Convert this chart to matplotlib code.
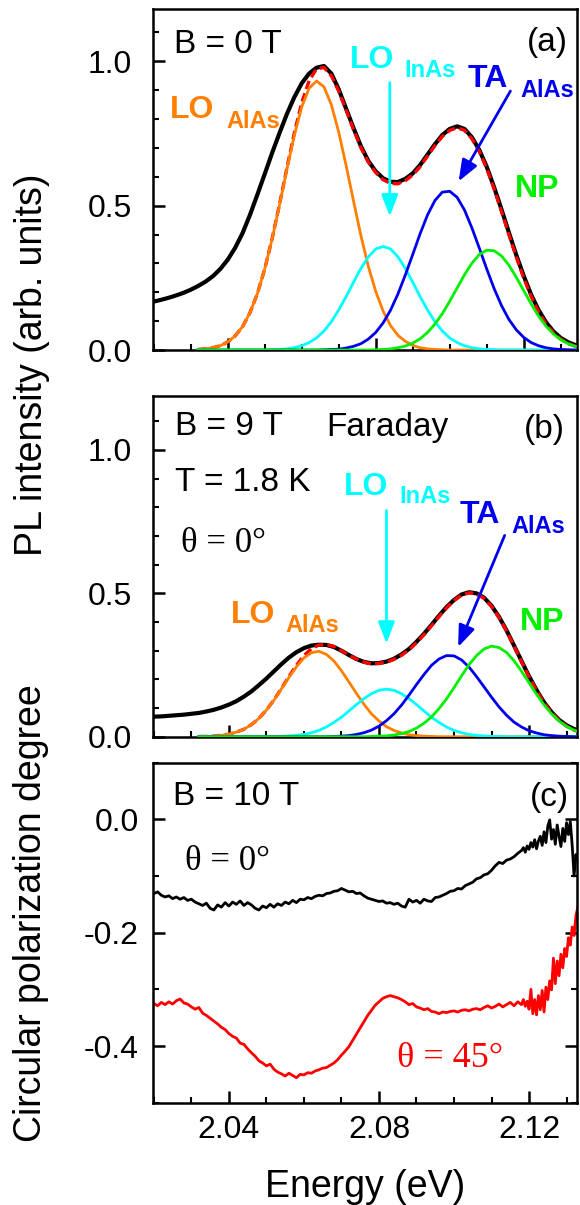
import matplotlib
matplotlib.use("Agg")
import matplotlib.pyplot as plt
import numpy as np
from matplotlib.ticker import MultipleLocator, FormatStrFormatter

# ---- data ----
# PL spectra grid (eV), black measured curves in (a) and (b)
energy_pl = [2.020, 2.022, 2.024, 2.026, 2.028, 2.030, 2.032, 2.034, 2.036, 2.038,
             2.040, 2.042, 2.044, 2.046, 2.048, 2.050, 2.052, 2.054, 2.056, 2.058,
             2.060, 2.062, 2.064, 2.066, 2.068, 2.070, 2.072, 2.074, 2.076, 2.078,
             2.080, 2.082, 2.084, 2.086, 2.088, 2.090, 2.092, 2.094, 2.096, 2.098,
             2.100, 2.102, 2.104, 2.106, 2.108, 2.110, 2.112, 2.114, 2.116, 2.118,
             2.120, 2.122, 2.124, 2.126, 2.128, 2.130, 2.132, 2.134]

pl_0T = [0.168, 0.174, 0.181, 0.189, 0.198, 0.209, 0.222, 0.237, 0.256, 0.281,
         0.313, 0.354, 0.405, 0.468, 0.538, 0.610, 0.683, 0.752, 0.818, 0.876,
         0.924, 0.958, 0.978, 0.984, 0.958, 0.903, 0.836, 0.769, 0.706, 0.655,
         0.619, 0.595, 0.583, 0.582, 0.593, 0.612, 0.641, 0.677, 0.713, 0.745,
         0.766, 0.775, 0.766, 0.737, 0.693, 0.635, 0.564, 0.487, 0.407, 0.329,
         0.257, 0.192, 0.139, 0.097, 0.065, 0.042, 0.027, 0.017]

pl_9T = [0.070, 0.071, 0.073, 0.075, 0.077, 0.080, 0.083, 0.088, 0.094, 0.102,
         0.112, 0.124, 0.140, 0.158, 0.180, 0.203, 0.228, 0.253, 0.276, 0.295,
         0.309, 0.318, 0.321, 0.320, 0.313, 0.300, 0.285, 0.271, 0.261, 0.256,
         0.257, 0.262, 0.272, 0.287, 0.306, 0.331, 0.359, 0.390, 0.422, 0.452,
         0.477, 0.496, 0.504, 0.500, 0.485, 0.457, 0.418, 0.371, 0.318, 0.264,
         0.211, 0.163, 0.120, 0.086, 0.059, 0.040, 0.027, 0.018]

# fit components share the grid from 2.032 eV
energy_fit = energy_pl[6:]

lo_alas_0T = [0.002, 0.004, 0.008, 0.015, 0.028, 0.049, 0.081, 0.129, 0.195, 0.281,
              0.385, 0.503, 0.627, 0.744, 0.842, 0.907, 0.932, 0.912, 0.850, 0.755,
              0.639, 0.516, 0.396, 0.290, 0.203, 0.135, 0.085, 0.051, 0.030, 0.016,
              0.008, 0.004, 0.002, 0.001, 0, 0, 0, 0, 0, 0,
              0, 0, 0, 0, 0, 0, 0, 0, 0, 0, 0, 0]
lo_inas_0T = [0, 0, 0, 0, 0, 0, 0, 0, 0, 0,
              0.001, 0.002, 0.004, 0.008, 0.015, 0.026, 0.042, 0.066, 0.098, 0.139,
              0.185, 0.235, 0.283, 0.323, 0.350, 0.359, 0.350, 0.323, 0.283, 0.235,
              0.185, 0.139, 0.098, 0.066, 0.042, 0.026, 0.015, 0.008, 0.004, 0.002,
              0.001, 0, 0, 0, 0, 0, 0, 0, 0, 0, 0, 0]
ta_alas_0T = [0, 0, 0, 0, 0, 0, 0, 0, 0, 0,
              0, 0, 0, 0, 0, 0, 0, 0.001, 0.002, 0.003,
              0.007, 0.013, 0.022, 0.038, 0.061, 0.094, 0.138, 0.194, 0.260, 0.331,
              0.403, 0.468, 0.518, 0.547, 0.550, 0.529, 0.485, 0.423, 0.353, 0.281,
              0.213, 0.154, 0.106, 0.070, 0.044, 0.026, 0.015, 0.008, 0.004, 0.002,
              0.001, 0.000]
np_0T = [0, 0, 0, 0, 0, 0, 0, 0, 0, 0,
         0, 0, 0, 0, 0, 0, 0, 0, 0, 0,
         0, 0, 0, 0, 0.001, 0.002, 0.004, 0.008, 0.014, 0.024,
         0.039, 0.061, 0.090, 0.126, 0.169, 0.215, 0.261, 0.301, 0.331, 0.346,
         0.344, 0.326, 0.294, 0.252, 0.206, 0.160, 0.118, 0.083, 0.056, 0.036,
         0.022, 0.013]

lo_alas_9T = [0.001, 0.001, 0.002, 0.005, 0.009, 0.016, 0.026, 0.042, 0.064, 0.093,
              0.127, 0.167, 0.207, 0.244, 0.275, 0.293, 0.298, 0.287, 0.264, 0.230,
              0.191, 0.151, 0.113, 0.080, 0.055, 0.035, 0.022, 0.013, 0.007, 0.004,
              0.002, 0.001, 0, 0, 0, 0, 0, 0, 0, 0,
              0, 0, 0, 0, 0, 0, 0, 0, 0, 0, 0, 0]
lo_inas_9T = [0, 0, 0, 0, 0, 0, 0, 0, 0, 0,
              0.001, 0.001, 0.003, 0.005, 0.008, 0.014, 0.022, 0.034, 0.050, 0.068,
              0.090, 0.112, 0.133, 0.150, 0.162, 0.166, 0.162, 0.150, 0.133, 0.112,
              0.090, 0.068, 0.050, 0.034, 0.022, 0.014, 0.008, 0.005, 0.003, 0.001,
              0.001, 0, 0, 0, 0, 0, 0, 0, 0, 0, 0, 0]
ta_alas_9T = [0, 0, 0, 0, 0, 0, 0, 0, 0, 0,
              0, 0, 0, 0, 0, 0, 0, 0, 0.001, 0.002,
              0.004, 0.008, 0.014, 0.023, 0.037, 0.056, 0.080, 0.110, 0.145, 0.182,
              0.217, 0.249, 0.271, 0.283, 0.282, 0.268, 0.243, 0.210, 0.174, 0.138,
              0.104, 0.075, 0.051, 0.034, 0.021, 0.013, 0.007, 0.004, 0.002, 0.001,
              0.000, 0.000]
np_9T = [0, 0, 0, 0, 0, 0, 0, 0, 0, 0,
         0, 0, 0, 0, 0, 0, 0, 0, 0, 0,
         0, 0, 0, 0.001, 0.002, 0.003, 0.006, 0.011, 0.018, 0.030,
         0.047, 0.069, 0.098, 0.132, 0.171, 0.212, 0.251, 0.283, 0.306, 0.316,
         0.311, 0.294, 0.265, 0.228, 0.188, 0.148, 0.111, 0.080, 0.055, 0.036,
         0.023, 0.014]

# circular polarization degree, B = 10 T
energy_cpd = [2.020, 2.021, 2.022, 2.023, 2.024, 2.025, 2.026, 2.027, 2.028, 2.029,
              2.030, 2.031, 2.032, 2.033, 2.034, 2.035, 2.036, 2.037, 2.038, 2.039,
              2.040, 2.041, 2.042, 2.043, 2.044, 2.045, 2.046, 2.047, 2.048, 2.049,
              2.050, 2.051, 2.052, 2.053, 2.054, 2.055, 2.056, 2.057, 2.058, 2.059,
              2.060, 2.061, 2.062, 2.063, 2.064, 2.065, 2.066, 2.067, 2.068, 2.069,
              2.070, 2.071, 2.072, 2.073, 2.074, 2.075, 2.076, 2.077, 2.078, 2.079,
              2.080, 2.081, 2.082, 2.083, 2.084, 2.085, 2.086, 2.087, 2.088, 2.089,
              2.090, 2.091, 2.092, 2.093, 2.094, 2.095, 2.096, 2.097, 2.098, 2.099,
              2.100, 2.101, 2.102, 2.103, 2.104, 2.105, 2.106, 2.107, 2.108, 2.109,
              2.110, 2.111, 2.112, 2.113, 2.114, 2.115, 2.116, 2.117, 2.118,
              2.1185, 2.119, 2.1195, 2.120, 2.1205, 2.121, 2.1215, 2.122, 2.1225, 2.123,
              2.1235, 2.124, 2.1245, 2.125, 2.1255, 2.126, 2.1265, 2.127, 2.1275, 2.128,
              2.1285, 2.129, 2.1295, 2.130, 2.1305, 2.131, 2.1315, 2.132, 2.1325, 2.133]

cpd_0deg = [-0.131, -0.128, -0.134, -0.137, -0.135, -0.140, -0.137, -0.141, -0.138, -0.143,
            -0.141, -0.146, -0.149, -0.152, -0.148, -0.157, -0.160, -0.151, -0.155, -0.147,
            -0.153, -0.146, -0.150, -0.144, -0.152, -0.147, -0.151, -0.157, -0.160, -0.153,
            -0.156, -0.150, -0.155, -0.149, -0.152, -0.146, -0.149, -0.143, -0.147, -0.141,
            -0.142, -0.138, -0.140, -0.136, -0.134, -0.135, -0.131, -0.130, -0.127, -0.126,
            -0.122, -0.125, -0.128, -0.127, -0.131, -0.130, -0.135, -0.139, -0.141, -0.143,
            -0.145, -0.144, -0.148, -0.147, -0.150, -0.148, -0.153, -0.155, -0.141, -0.146,
            -0.143, -0.148, -0.141, -0.144, -0.145, -0.138, -0.137, -0.134, -0.131, -0.127,
            -0.126, -0.122, -0.123, -0.117, -0.114, -0.111, -0.105, -0.103, -0.098, -0.096,
            -0.090, -0.082, -0.076, -0.078, -0.072, -0.070, -0.066, -0.060, -0.055,
            -0.050, -0.058, -0.047, -0.053, -0.041, -0.049, -0.036, -0.052, -0.038, -0.030,
            -0.046, -0.022, -0.041, -0.012, -0.001, -0.035, -0.018, -0.044, -0.010, -0.030,
            -0.048, -0.016, -0.039, -0.006, -0.027, -0.004, -0.046, -0.100, -0.062, -0.070]

cpd_45deg = [-0.325, -0.329, -0.323, -0.327, -0.322, -0.326, -0.320, -0.317, -0.324, -0.326,
             -0.331, -0.335, -0.332, -0.342, -0.346, -0.351, -0.356, -0.361, -0.367, -0.371,
             -0.378, -0.383, -0.386, -0.395, -0.397, -0.405, -0.412, -0.418, -0.426, -0.430,
             -0.435, -0.432, -0.441, -0.446, -0.449, -0.453, -0.448, -0.452, -0.456, -0.450,
             -0.451, -0.447, -0.448, -0.444, -0.442, -0.439, -0.438, -0.434, -0.430, -0.424,
             -0.416, -0.409, -0.401, -0.390, -0.379, -0.368, -0.357, -0.346, -0.337, -0.328,
             -0.322, -0.316, -0.313, -0.311, -0.313, -0.315, -0.318, -0.322, -0.327, -0.325,
             -0.331, -0.333, -0.336, -0.334, -0.339, -0.340, -0.343, -0.340, -0.341, -0.339,
             -0.338, -0.340, -0.337, -0.336, -0.338, -0.335, -0.334, -0.336, -0.332, -0.329,
             -0.333, -0.330, -0.326, -0.331, -0.327, -0.323, -0.329, -0.322, -0.327,
             -0.318, -0.330, -0.321, -0.335, -0.300, -0.343, -0.318, -0.345, -0.311, -0.336,
             -0.302, -0.340, -0.296, -0.318, -0.285, -0.301, -0.245, -0.290, -0.250, -0.276,
             -0.238, -0.262, -0.228, -0.242, -0.209, -0.222, -0.190, -0.205, -0.170, -0.155]

ORANGE = "#ff7f00"
CYAN = "#00ffff"
BLUE = "#0000ee"
GREEN = "#00f000"

plt.rcParams["font.family"] = ["Liberation Sans", "DejaVu Sans"]
plt.rcParams["axes.unicode_minus"] = False

fig = plt.figure(figsize=(5.8, 12.05), dpi=100)
ax_a = fig.add_axes([0.2638, 0.7095, 0.7310, 0.2827])
ax_b = fig.add_axes([0.2633, 0.3886, 0.7310, 0.2827])
ax_c = fig.add_axes([0.2633, 0.0849, 0.7310, 0.2822])


def style_axis(ax, ymajor, yminor, ypad, right=False):
    for sp in ax.spines.values():
        sp.set_linewidth(1.8)
    ax.xaxis.set_major_locator(MultipleLocator(0.04))
    ax.xaxis.set_minor_locator(MultipleLocator(0.01))
    ax.yaxis.set_major_locator(MultipleLocator(ymajor))
    ax.yaxis.set_minor_locator(MultipleLocator(yminor))
    ax.yaxis.set_major_formatter(FormatStrFormatter("%.1f"))
    ax.xaxis.set_major_formatter(FormatStrFormatter("%.2f"))
    ax.tick_params(which="both", direction="in", top=False, right=right,
                   labelsize=23)
    ax.tick_params(which="major", length=8.5, width=1.8)
    ax.tick_params(which="minor", length=4.3, width=1.5)
    ax.tick_params(axis="y", pad=ypad)
    ax.tick_params(axis="x", pad=9)


def sub_label(ax, x, y, main, sub, dx, dy, color):
    ax.text(x, y, main, transform=ax.transAxes, color=color, fontsize=23,
            fontweight="bold", ha="left", va="baseline")
    ax.text(x + dx, y - dy, sub, transform=ax.transAxes, color=color, fontsize=17,
            fontweight="bold", ha="left", va="baseline")


def arrow(ax, start, tip, color):
    ax.annotate("", xy=tip, xytext=start,
                arrowprops=dict(arrowstyle="-|>,head_length=0.65,head_width=0.25",
                                color=color, lw=2.0, mutation_scale=20,
                                shrinkA=0, shrinkB=0))


def pl_panel(ax, data, lo_alas, lo_inas, ta_alas, np_line):
    fit = np.array(lo_alas) + np.array(lo_inas) + np.array(ta_alas) + np.array(np_line)
    ax.plot(energy_pl, data, color="black", lw=3.0, zorder=2)
    ax.plot(energy_fit, fit, color="red", lw=2.4, dashes=(2.6, 1.3), zorder=3)
    ax.plot(energy_fit, lo_alas, color=ORANGE, lw=2.0, zorder=4)
    ax.plot(energy_fit, lo_inas, color=CYAN, lw=2.0, zorder=4)
    ax.plot(energy_fit, ta_alas, color=BLUE, lw=2.0, zorder=4)
    ax.plot(energy_fit, np_line, color=GREEN, lw=2.0, zorder=4)


# (a) B = 0 T
pl_panel(ax_a, pl_0T, lo_alas_0T, lo_inas_0T, ta_alas_0T, np_0T)
ax_a.set_xlim(2.0198, 2.1344)
ax_a.set_ylim(0, 1.18)
style_axis(ax_a, 0.5, 0.1, 15)
ax_a.tick_params(labelbottom=False)
ax_a.text(0.0495, 0.872, "B = 0 T", transform=ax_a.transAxes, fontsize=24,
          ha="left", va="baseline")
ax_a.text(0.979, 0.877, "(a)", transform=ax_a.transAxes, fontsize=24,
          ha="right", va="baseline")
sub_label(ax_a, 0.040, 0.681, "LO", "AlAs", 0.132, 0.029, ORANGE)
sub_label(ax_a, 0.4646, 0.828, "LO", "InAs", 0.129, 0.027, CYAN)
sub_label(ax_a, 0.743, 0.772, "TA", "AlAs", 0.123, 0.030, BLUE)
ax_a.text(0.854, 0.449, "NP", transform=ax_a.transAxes, color=GREEN, fontsize=23,
          fontweight="bold", ha="left", va="baseline")
arrow(ax_a, (2.0838, 0.926), (2.0838, 0.463), CYAN)
arrow(ax_a, (2.1164, 0.897), (2.1024, 0.584), BLUE)

# (b) B = 9 T
pl_panel(ax_b, pl_9T, lo_alas_9T, lo_inas_9T, ta_alas_9T, np_9T)
ax_b.set_xlim(2.0197, 2.1327)
ax_b.set_ylim(0, 1.188)
style_axis(ax_b, 0.5, 0.1, 15)
ax_b.tick_params(labelbottom=False)
ax_b.text(0.0514, 0.886, "B = 9 T", transform=ax_b.transAxes, fontsize=24,
          ha="left", va="baseline")
ax_b.text(0.4087, 0.883, "Faraday", transform=ax_b.transAxes, fontsize=24,
          ha="left", va="baseline")
ax_b.text(0.971, 0.876, "(b)", transform=ax_b.transAxes, fontsize=24,
          ha="right", va="baseline")
ax_b.text(0.052, 0.721, "T = 1.8 K", transform=ax_b.transAxes, fontsize=24,
          ha="left", va="baseline")
ax_b.text(0.0667, 0.542, "\u03b8 = 0\u00b0", transform=ax_b.transAxes, fontsize=25,
          family=["Liberation Serif", "DejaVu Serif"], ha="left", va="baseline")
sub_label(ax_b, 0.450, 0.709, "LO", "InAs", 0.131, 0.023, CYAN)
sub_label(ax_b, 0.725, 0.627, "TA", "AlAs", 0.122, 0.029, BLUE)
sub_label(ax_b, 0.1835, 0.334, "LO", "AlAs", 0.1285, 0.027, ORANGE)
ax_b.text(0.866, 0.313, "NP", transform=ax_b.transAxes, color=GREEN, fontsize=23,
          fontweight="bold", ha="left", va="baseline")
arrow(ax_b, (2.082, 0.789), (2.082, 0.325), CYAN)
arrow(ax_b, (2.1135, 0.702), (2.1011, 0.313), BLUE)

# (c) circular polarization degree, B = 10 T
ax_c.plot(energy_cpd, cpd_0deg, color="black", lw=2.0)
ax_c.plot(energy_cpd, cpd_45deg, color="red", lw=2.0)
ax_c.set_xlim(2.0197, 2.1327)
ax_c.set_ylim(-0.5, 0.1)
style_axis(ax_c, 0.2, 0.1, 10, right=True)
ax_c.text(0.0467, 0.8756, "B = 10 T", transform=ax_c.transAxes, fontsize=24,
          ha="left", va="baseline")
ax_c.text(0.9807, 0.8726, "(c)", transform=ax_c.transAxes, fontsize=24,
          ha="right", va="baseline")
ax_c.text(0.076, 0.6844, "\u03b8 = 0\u00b0", transform=ax_c.transAxes, fontsize=25,
          family=["Liberation Serif", "DejaVu Serif"], ha="left", va="baseline")
ax_c.text(0.5755, 0.106, "\u03b8 = 45\u00b0", transform=ax_c.transAxes, fontsize=26,
          color="red", family=["Liberation Serif", "DejaVu Serif"],
          ha="left", va="baseline")

fig.text(0.055, 0.697, "PL intensity (arb. units)", rotation=90, fontsize=27,
         ha="center", va="center")
fig.text(0.053, 0.2423, "Circular polarization degree", rotation=90, fontsize=27,
         ha="center", va="center")
fig.text(0.629, 0.0069, "Energy (eV)", fontsize=27, ha="center", va="baseline")

fig.savefig("out.png", dpi=100)
